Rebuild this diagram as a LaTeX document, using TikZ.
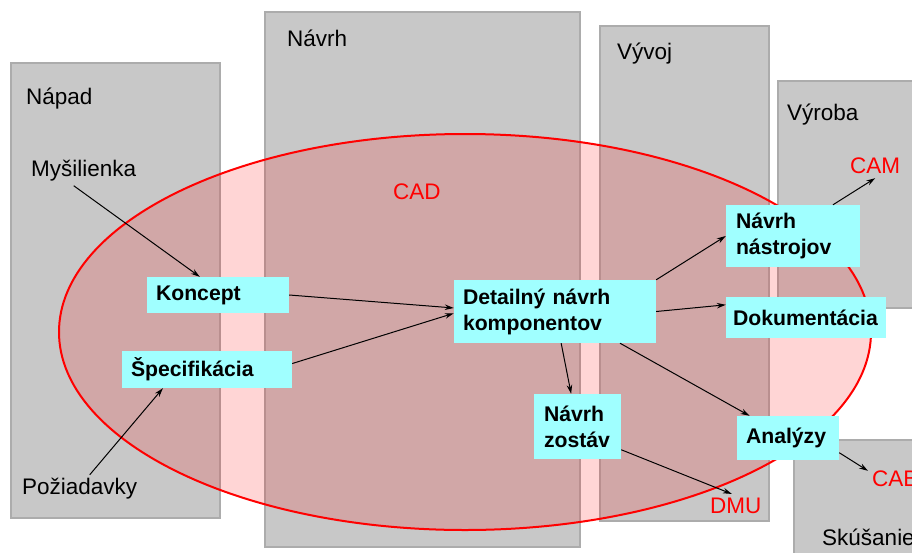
\documentclass[tikz,border=0pt]{standalone}
\usepackage{fontspec}
\setmainfont{Liberation Sans}
\usetikzlibrary{arrows.meta}

\definecolor{phasegray}{RGB}{200,200,200}
\definecolor{phaseline}{RGB}{172,172,172}
\definecolor{boxcyan}{RGB}{160,255,255}

\begin{document}
\begin{tikzpicture}[x=1pt, y=-1pt,
			phase/.style={fill=phasegray, draw=phaseline, line width=1.5pt},
			lbl/.style={inner sep=0pt, anchor=west, font=\fontsize{22.5}{26}\selectfont},
			tool/.style={lbl, text=red},
			box/.style={fill=boxcyan, inner xsep=9pt, inner ysep=0pt, align=left, font=\fontsize{21.2}{26}\selectfont\bfseries},
			>={Stealth[length=9pt,width=5.5pt]}]
			\useasboundingbox (0,0) rectangle (912,552);
			\clip (0,0) rectangle (912,552);
			% phases
			\draw[phase] (11,63) rectangle (220,518);
			\draw[phase] (265,12) rectangle (580,547);
			\draw[phase] (600,26) rectangle (769,521);
			\draw[phase] (778,81) rectangle (930,308);
			\draw[phase] (794,440) rectangle (930,570);
			\node[lbl] (napad) at (26,98.5) {Nápad};
			\node[lbl] (navrh) at (287,38.5) {Návrh};
			\node[lbl] (vyvoj) at (617,54) {Vývoj};
			\node[lbl] (vyroba) at (787,114.5) {Výroba};
			\node[lbl] (skus) at (822,537) {Skúšanie};
			% CAD
			\draw[red, line width=2pt, fill=red, fill opacity=0.165] (465,332) ellipse [x radius=406, y radius=198];
			\node[tool] (cad) at (393,192) {CAD};
			\node[tool] (cam) at (850,166) {CAM};
			\node[tool] (dmu) at (710,506) {DMU};
			\node[tool] (cab) at (872,479) {CAB};
			\node[lbl] (mys) at (31,171) {Myšilienka};
			\node[lbl] (req) at (22,488.5) {Požiadavky};
			% steps
			\node[box, text width=124pt, minimum height=36pt] (kon) at (218,295) {Koncept};
			\node[box, text width=152pt, minimum height=37pt] (spec) at (207,369.5) {Špecifikácia};
			\node[box, text width=184pt, minimum height=63pt] (det) at (555,311.5) {Detailný návrh\\komponentov};
			\node[box, inner xsep=10pt, text width=114pt, minimum height=62pt] (nastr) at (793,236) {Návrh\\nástrojov};
			\node[box, inner xsep=7pt, text width=146pt, minimum height=41pt] (dok) at (806,317.5) {Dokumentácia};
			\node[box, inner xsep=10pt, text width=67pt, minimum height=65pt] (zost) at (577.5,426.5) {Návrh\\zostáv};
			\node[box, text width=84pt, minimum height=44pt] (anal) at (788,438) {Analýzy};
			\path[->, line width=1pt]
			([shift={(-10,4)}]mys.south) edge (kon.135)
			([shift={(10,-3)}]req.north) edge (spec.203)
			(kon.east) edge (det.178)
			(spec.4) edge (det.181)
			(det.north east) edge (nastr.west)
			(det.east) edge (dok.171)
			(det.281) edge (zost.101)
			(det.334) edge (anal.150)
			(zost.332) edge ([shift={(-4,-4)}]dmu.north)
			(anal.344) edge ([xshift=-4pt]cab.north west)
			(nastr.38) edge ([yshift=-4pt]cam.south);
		\end{tikzpicture}
\end{document}
